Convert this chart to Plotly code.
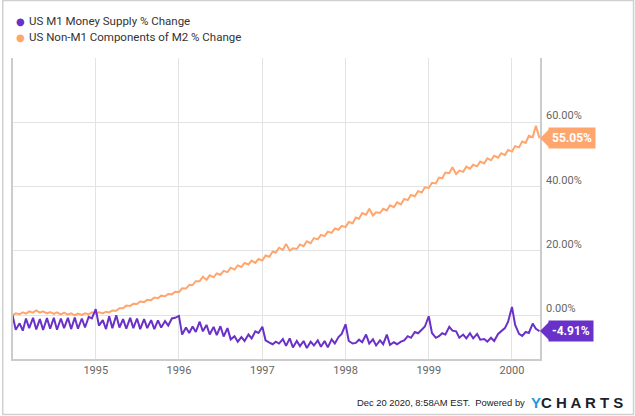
import pandas as pd
import plotly.graph_objects as go

# semi-monthly observations, Jan 1994 .. May 2000
dates = pd.date_range('1994-01-01', '2000-05-01', freq='SMS')

m1_change = [
    # 1994
    0.0, -4.5, -2.5, -4.8, -1.0, -4.0, -0.8, -4.4, -1.2, -4.6, -0.9, -4.2,
    -0.8, -4.5, -1.0, -4.0, -0.8, -4.3, -0.7, -4.2, -1.0, -3.8, -0.5, -1.0,
    # 1995
    1.9, -3.2, -1.5, -4.3, -0.3, -4.0, 0.0, -3.8, -1.2, -4.2, -0.8, -4.0,
    -1.0, -4.3, -1.2, -4.0, -1.5, -4.3, -1.6, -3.8, -1.8, -3.2, -1.0, -0.8,
    # 1996
    -0.2, -6.0, -3.8, -5.5, -3.5, -5.2, -2.0, -5.0, -3.0, -6.0, -3.6, -6.2,
    -3.4, -6.6, -4.0, -7.5, -6.5, -8.2, -6.8, -8.0, -6.0, -7.2, -5.0, -5.5,
    # 1997
    -3.6, -7.8, -8.5, -9.0, -8.2, -8.8, -7.4, -9.5, -7.2, -10.0, -8.0, -9.6,
    -8.0, -10.2, -8.2, -9.4, -7.8, -9.8, -8.0, -10.0, -7.5, -8.8, -6.8, -5.8,
    # 1998
    -2.8, -8.0, -8.8, -8.6, -7.6, -8.4, -6.0, -8.8, -7.5, -9.4, -7.8, -9.0,
    -6.0, -9.2, -8.4, -9.0, -8.2, -7.8, -6.5, -7.0, -5.2, -5.6, -4.5, -3.5,
    # 1999
    -0.3, -5.5, -7.0, -6.5, -5.6, -6.0, -3.6, -4.8, -5.0, -7.0, -6.0, -7.2,
    -5.6, -7.2, -5.8, -7.6, -7.4, -8.2, -7.0, -8.0, -5.8, -5.0, -4.0, -2.0,
    # 2000
    2.6, -3.0, -5.8, -6.4, -5.2, -5.5, -2.6, -4.2, -4.91,
]

non_m1_change = [
    # 1994
    0.0, 0.6, 0.3, 0.9, 0.5, 1.2, 0.8, 1.5, 0.8, 1.2, 0.6, 1.0,
    0.4, 0.9, 0.3, 0.8, 0.2, 0.6, 0.0, 0.5, 0.1, 0.6, 0.3, 0.9,
    # 1995
    0.5, 0.9, 0.6, 1.1, 0.9, 1.5, 1.4, 2.2, 2.2, 3.0, 2.9, 3.6,
    3.5, 4.3, 4.1, 4.8, 4.7, 5.5, 5.3, 6.1, 5.9, 6.6, 6.5, 7.3,
    # 1996
    7.2, 8.4, 8.3, 9.4, 9.4, 10.6, 10.6, 12.0, 11.0, 12.4, 11.8, 13.0,
    12.6, 13.8, 13.4, 14.8, 14.2, 15.5, 15.0, 16.3, 15.8, 17.0, 16.3, 17.5,
    # 1997
    17.0, 18.6, 18.2, 19.8, 19.5, 21.0, 20.3, 22.2, 20.1, 20.8, 20.6, 22.0,
    21.5, 23.0, 22.4, 24.0, 23.6, 25.0, 24.6, 26.0, 25.6, 27.0, 26.6, 27.8,
    # 1998
    27.4, 29.0, 28.6, 30.4, 30.0, 31.8, 31.3, 33.1, 31.0, 32.0, 31.8, 33.1,
    32.6, 34.2, 33.6, 35.1, 34.5, 36.2, 35.8, 37.4, 37.0, 38.6, 38.2, 39.8,
    # 1999
    39.6, 41.2, 41.0, 42.8, 42.6, 44.4, 44.2, 46.0, 43.9, 45.0, 44.6, 46.2,
    45.6, 46.8, 46.3, 47.8, 47.2, 48.8, 48.2, 49.6, 49.0, 50.4, 49.8, 51.4,
    # 2000
    50.9, 52.6, 52.2, 54.0, 53.6, 55.8, 55.4, 58.9, 55.05,
]

y_ticks = [0, 20, 40, 60]
x_ticks = ['1995-01-01', '1996-01-01', '1997-01-01', '1998-01-01', '1999-01-01', '2000-01-01']
x_labels = ['1995', '1996', '1997', '1998', '1999', '2000']

PURPLE = '#6a31c9'
ORANGE = '#ffa66e'
FONT = 'Roboto'

fig = go.Figure()
fig.add_trace(go.Scatter(x=dates, y=non_m1_change, mode='lines', name='US Non-M1 Components of M2 % Change',
                         line=dict(color=ORANGE, width=2)))
fig.add_trace(go.Scatter(x=dates, y=m1_change, mode='lines', name='US M1 Money Supply % Change',
                         line=dict(color=PURPLE, width=2)))

# legend (dot + text)
legend_items = [('US M1 Money Supply % Change', PURPLE, 1.122),
                ('US Non-M1 Components of M2 % Change', ORANGE, 1.069)]
for label, color, ly in legend_items:
    fig.add_annotation(xref='paper', yref='paper', x=0.001, y=ly, text='●', showarrow=False,
                       font=dict(family='DejaVu Sans', size=10, color=color), xanchor='left', yanchor='middle')
    fig.add_annotation(xref='paper', yref='paper', x=0.026, y=ly, text=label, showarrow=False,
                       font=dict(family=FONT, size=11.5, color='#333333'), xanchor='left', yanchor='middle')

# right-side y labels above gridlines
for v in y_ticks:
    fig.add_annotation(xref='paper', yref='y', x=1, y=v, text=f'{v:.2f}%', showarrow=False,
                       xanchor='left', yanchor='bottom', xshift=4, yshift=-2,
                       font=dict(family=FONT, size=11, color='#666666'))

# last-value badges
for series, color in [(non_m1_change, ORANGE), (m1_change, PURPLE)]:
    last = series[-1]
    fig.add_annotation(xref='paper', yref='y', x=1, y=last, text=f'<b>{last:.2f}%</b>', showarrow=False,
                       xanchor='left', yanchor='middle', xshift=8, bgcolor=color, borderpad=3,
                       font=dict(family=FONT, size=12, color='white'))
    fig.add_shape(type='path', xref='paper', yref='y', xsizemode='pixel', ysizemode='pixel',
                  xanchor=1, yanchor=last, path='M 0 0 L 9 9 L 9 -9 Z',
                  fillcolor=color, line=dict(width=0))

# footer
fig.add_annotation(xref='paper', yref='paper', x=0.976, y=-0.146, text='Dec 20 2020, 8:58AM EST.  Powered by',
                   showarrow=False, xanchor='right', yanchor='middle',
                   font=dict(family='Liberation Sans', size=9.4, color='#222222'))
fig.add_annotation(xref='paper', yref='paper', x=0.98, y=-0.146,
                   text='<b><span style="color:#1e9be0">Y</span>C H A R T S</b>',
                   showarrow=False, xanchor='left', yanchor='middle',
                   font=dict(family='Liberation Sans', size=15, color='#1b1f2e'))

# outer frame
fig.add_shape(type='rect', xref='paper', yref='paper', x0=-0.0195, x1=1.1775, y0=-0.184, y1=1.191,
              line=dict(color='#d0d0d0', width=1.5), fillcolor='rgba(0,0,0,0)', layer='below')

fig.update_layout(
    width=635, height=416,
    margin=dict(l=11, r=95, t=58, b=57),
    paper_bgcolor='white', plot_bgcolor='white',
    showlegend=False,
    font=dict(family=FONT),
    xaxis=dict(range=['1994-01-03', '2000-05-03'], tickvals=x_ticks, ticktext=x_labels,
               showgrid=True, gridcolor='#e3e3e3', gridwidth=1,
               showline=True, linecolor='#cccccc', linewidth=1.5, mirror=False,
               ticks='', tickfont=dict(family=FONT, size=11, color='#666666'), zeroline=False),
    yaxis=dict(range=[-13.6, 80], tickvals=[0, 20, 40, 60, 80], showticklabels=False,
               showgrid=True, gridcolor='#e3e3e3', gridwidth=1, zeroline=False,
               showline=True, linecolor='#cccccc', linewidth=1.5, mirror=True, side='right'),
)

fig.write_html('out.html', config={'displayModeBar': False},
               post_script="document.body.style.margin='0';")
